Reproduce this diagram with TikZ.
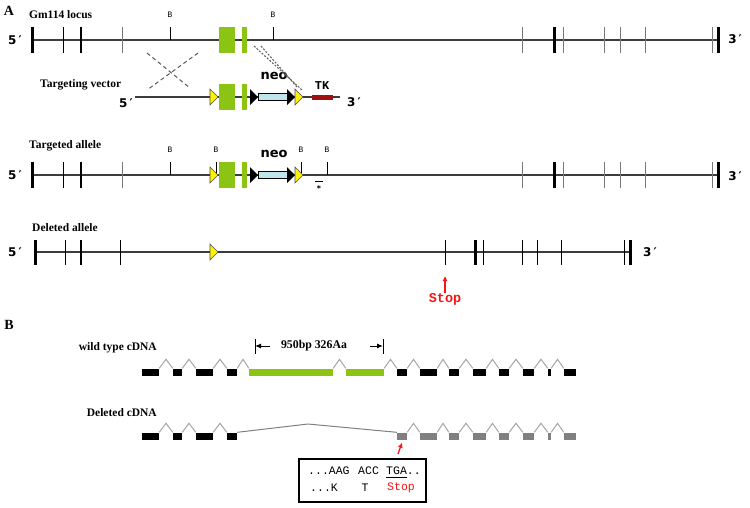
\documentclass[tikz,border=0pt]{standalone}
\usepackage{fontspec}
\setmainfont{Liberation Serif}
\setmonofont{Liberation Mono}
\newfontfamily\endfont{DejaVu Sans}
\usetikzlibrary{arrows.meta,calc}

\definecolor{exongreen}{RGB}{140,196,20}
\definecolor{neoblue}{RGB}{190,228,236}
\definecolor{tkred}{RGB}{160,16,16}
\definecolor{dnagray}{RGB}{60,60,60}
\definecolor{tickgray}{RGB}{120,120,120}
\definecolor{introngray}{RGB}{165,165,165}
\definecolor{exongray}{RGB}{128,128,128}
\definecolor{stopred}{RGB}{250,20,20}

\tikzset{
  panel/.style={font=\fontsize{14}{16}\selectfont\bfseries, inner sep=0pt},
  rowlabel/.style={font=\fontsize{11.5}{13}\selectfont\bfseries, inner sep=0pt},
  endlabel/.style={font=\endfont\fontsize{12}{14}\selectfont\bfseries, inner sep=0pt},
  bsite/.style={font=\endfont\fontsize{7.5}{9}\selectfont, inner sep=0pt},
  neolabel/.style={font=\endfont\fontsize{13}{15}\selectfont\bfseries, inner sep=0pt},
  monolabel/.style={font=\ttfamily\fontsize{11.5}{13}\selectfont, inner sep=0pt},
  stoplabel/.style={font=\ttfamily\fontsize{13.5}{15}\selectfont\bfseries, text=stopred, inner sep=0pt},
  genomic/.style={draw=dnagray, line width=1.3pt},
  loxp/.style={fill=yellow, draw=black!70, line width=0.6pt},
  neobox/.style={draw=black, fill=neoblue, line width=0.8pt, minimum width=30pt, minimum height=7pt, inner sep=0pt},
  exon/.style={draw=none, inner sep=0pt, minimum height=7pt},
  intron/.style={draw=introngray, line width=1pt},
  crossover/.style={draw=black!65, line width=1pt, dash pattern=on 4pt off 3pt},
  redarrow/.style={draw=stopred, line width=1.3pt, -{Latex[length=5pt,width=5pt]}},
  spanarrow/.style={line width=1pt, -{Latex[length=6pt,width=5pt]}}
}

\begin{document}
\begin{tikzpicture}[x=1pt,y=-1pt]
  \useasboundingbox (0,0) rectangle (750,507);

  \def \LocusTicks {
    32/3/black, 63/1/black, 81/2.5/black, 122/1/tickgray,
    522/1/tickgray, 554/3/black, 563/1/tickgray, 604/1/tickgray,
    620/1/tickgray, 645/1/tickgray, 712/1/tickgray, 718/3/black}
  \def \DeletedTicks {
    35/3/black, 65/1/black, 81/2.5/black, 120/1/black,
    445/1/black, 475/3/black, 483/1/black, 522/1/black,
    537/1/black, 561/1/black, 624/1/black, 630/3/black}
  \def \WTExons {
    1/142/159/black, 2/173/182/black, 3/196/213/black, 4/227/237/black,
    5/249/333/exongreen, 6/346/384/exongreen, 7/397/407/black,
    8/420/437/black, 9/449/459/black, 10/473/486/black, 11/499/509/black,
    12/523/534/black, 13/548/551/black, 14/564/576/black}
  \def \DelExons {
    1/142/159/black, 2/173/182/black, 3/196/213/black, 4/227/237/black,
    7/397/407/exongray, 8/420/437/exongray, 9/449/459/exongray,
    10/473/486/exongray, 11/499/509/exongray, 12/523/534/exongray,
    13/548/551/exongray, 14/564/576/exongray}

  % A: genomic maps
  \node[panel] (panelA) at (9,11) {A};
  \node[rowlabel, anchor=west] (locus) at (29,15) {Gm114 locus};
  \node[rowlabel, anchor=west] (vector) at (40,85) {Targeting vector};
  \node[rowlabel, anchor=west] (targeted) at (29,146) {Targeted allele};
  \node[rowlabel, anchor=west] (deleted) at (32,228) {Deleted allele};

  \foreach \yy in {40,175} {
    \draw[genomic] (32,\yy) -- (718,\yy);
    \foreach \x / \w / \c in \LocusTicks {
      \draw[line width=\w pt, \c] (\x,\yy-13) -- (\x,\yy+13);
    }
  }
  \node[endlabel] (l5) at (15,40) {5\,′};
  \node[endlabel] (l3) at (735,39) {3\,′};
  \node[endlabel] (t5) at (15,175) {5\,′};
  \node[endlabel] (t3) at (735,176) {3\,′};

  \foreach \x / \yy / \id in {170/40/a, 273/40/b, 170/175/c, 216/175/d, 301/175/e, 327/175/f} {
    \node[bsite] (b\id) at (\x,\yy-25) {B};
    \draw[black, line width=1pt] (\x,\yy-13) -- (\x,\yy);
  }
  \fill[exongreen] (219,27) rectangle (235,53);
  \fill[exongreen] (242,27) rectangle (247,53);

  % vector
  \draw[genomic] (135,97) -- (340,97);
  \node[endlabel] (v5) at (126,103) {5\,′};
  \node[endlabel] (v3) at (354,102) {3\,′};
  \fill[tkred] (312,95) rectangle (333,99.5);
  \node[font=\ttfamily\fontsize{12}{14}\selectfont\bfseries, inner sep=0pt] (tk) at (322,86) {TK};

  \foreach \yy in {97,175} {
    \fill[exongreen] (219,\yy-13) rectangle (235,\yy+13);
    \fill[exongreen] (242,\yy-13) rectangle (247,\yy+13);
    \draw[loxp] (210,\yy-8) -- (218,\yy) -- (210,\yy+8) -- cycle;
    \fill (250,\yy-8) -- (258,\yy) -- (250,\yy+8) -- cycle;
    \node[neobox] (neo\yy) at (273,\yy) {};
    \fill (287,\yy-8) -- (295,\yy) -- (287,\yy+8) -- cycle;
    \draw[loxp] (295,\yy-8) -- (303,\yy) -- (295,\yy+8) -- cycle;
    \node[neolabel] at (274,\yy-21) {neo};
  }

  \draw[crossover] (147,53) -- (190,88);
  \draw[crossover] (198,53) -- (147,90);
  \draw[crossover, dash pattern=on 2pt off 1.5pt] (254,46) -- (302,90);
  \draw[crossover, dash pattern=on 2pt off 1.5pt] (261,46) -- (297,87);

  \draw[black, line width=1pt] (315,181) -- (323,181);
  \node[font=\endfont\fontsize{8}{9}\selectfont\bfseries, inner sep=0pt] (probe) at (319,189) {*};

  % deleted allele
  \draw[genomic] (35,252) -- (630,252);
  \foreach \x / \w / \c in \DeletedTicks {
    \draw[line width=\w pt, \c] (\x,240) -- (\x,265);
  }
  \draw[loxp] (210,244) -- (218,252) -- (210,260) -- cycle;
  \node[endlabel] (d5) at (15,252) {5\,′};
  \node[endlabel] (d3) at (650,252) {3\,′};
  \node[stoplabel] (stopA) at (445,299) {Stop};
  \coordinate (stoptip) at (445,276);
  \draw[redarrow] (stopA.north) -- (stoptip);

  % B: cDNA
  \node[panel] (panelB) at (9,325) {B};
  \node[rowlabel, anchor=east] (wtlabel) at (157,348) {wild type cDNA};
  \node[rowlabel, anchor=east] (dellabel) at (157,413) {Deleted cDNA};

  \foreach \id / \a / \b / \c in \WTExons {
    \node[exon, fill=\c, minimum width={\b pt-\a pt}] (w\id) at ({(\a+\b)/2},372) {};
  }
  \foreach \i in {1,...,13} {
    \pgfmathtruncatemacro{\j}{\i+1}
    \draw[intron] (w\i.north east) -- ($(w\i.north east)!0.5!(w\j.north west)+(0,-9)$) -- (w\j.north west);
  }

  \foreach \id / \a / \b / \c in \DelExons {
    \node[exon, fill=\c, minimum width={\b pt-\a pt}] (d\id) at ({(\a+\b)/2},436) {};
  }
  \foreach \i / \j in {1/2, 2/3, 3/4, 7/8, 8/9, 9/10, 10/11, 11/12, 12/13, 13/14} {
    \draw[intron] (d\i.north east) -- ($(d\i.north east)!0.5!(d\j.north west)+(0,-9)$) -- (d\j.north west);
  }
  \draw[intron, draw=exongray] (d4.north east) -- (308,424) -- (d7.north west);

  \node[font=\bfseries\fontsize{11.8}{13}\selectfont, inner sep=0pt] (span) at (314,346) {950bp 326Aa};
  \coordinate (spanL) at (255,346);
  \coordinate (spanR) at (383,346);
  \draw[line width=1pt] (255,339) -- (255,354);
  \draw[line width=1pt] (383,339) -- (383,354);
  \draw[spanarrow] ($(spanL)+(15,0)$) -- (spanL);
  \draw[spanarrow] ($(spanR)+(-13,0)$) -- (spanR);

  \coordinate (tgabase) at (398,454);
  \draw[redarrow] (tgabase) -- ($(d7.south)+(0,3)$);

  \node[draw, line width=1.5pt, minimum width=127pt, minimum height=43pt, inner sep=0pt] (seqbox) at (362.5,480.5) {};
  \node[monolabel, anchor=west] (codon1) at (308,471) {...AAG};
  \node[monolabel, anchor=west] (codon2) at (358,471) {ACC};
  \node[monolabel, anchor=west] (codon3) at (386,471) {TGA..};
  \draw[line width=0.8pt] (386,477) -- (407,477);
  \node[monolabel, anchor=west] (aa1) at (310,488) {...K};
  \node[monolabel] (aa2) at (365,488) {T};
  \node[monolabel, anchor=west, text=stopred] (aa3) at (387,488) {Stop};
\end{tikzpicture}
\end{document}
